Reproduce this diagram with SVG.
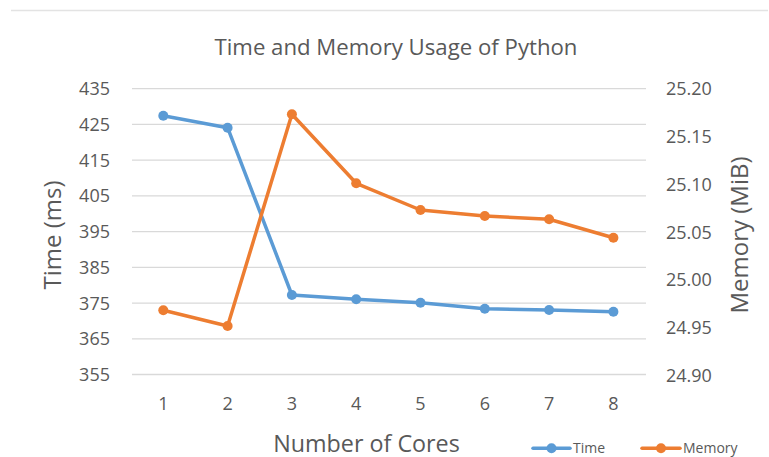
<svg xmlns="http://www.w3.org/2000/svg" width="769" height="457" viewBox="0 0 769 457">
<style>
text{font-family:"Open Sans","Noto Sans","Liberation Sans",sans-serif;fill:#595959}
.tick{font-size:18px}
.grid{stroke:#d9d9d9;stroke-width:1.3}
.time{fill:none;stroke:#5b9bd5;stroke-width:3.5;stroke-linejoin:round;stroke-linecap:round}
.mem{fill:none;stroke:#ed7d31;stroke-width:3.5;stroke-linejoin:round;stroke-linecap:round}
.tm{fill:#5b9bd5}
.mm{fill:#ed7d31}
</style>
<rect width="769" height="457" fill="#fff"/>
<line x1="11" y1="10.5" x2="768" y2="10.5" stroke="#e3e3e3" stroke-width="1.3"/>
<text id="title" x="396" y="55" text-anchor="middle" font-size="22.2">Time and Memory Usage of Python</text>
<g id="gridlines">
<line class="grid" x1="132" y1="88.7" x2="646" y2="88.7"/>
<line class="grid" x1="132" y1="124.4" x2="646" y2="124.4"/>
<line class="grid" x1="132" y1="160.2" x2="646" y2="160.2"/>
<line class="grid" x1="132" y1="195.9" x2="646" y2="195.9"/>
<line class="grid" x1="132" y1="231.6" x2="646" y2="231.6"/>
<line class="grid" x1="132" y1="267.3" x2="646" y2="267.3"/>
<line class="grid" x1="132" y1="303.1" x2="646" y2="303.1"/>
<line class="grid" x1="132" y1="338.8" x2="646" y2="338.8"/>
<line class="grid" x1="132" y1="374.5" x2="646" y2="374.5"/>
</g>
<g id="left-axis" class="tick" text-anchor="end">
<text x="110" y="95.2">435</text>
<text x="110" y="130.9">425</text>
<text x="110" y="166.7">415</text>
<text x="110" y="202.4">405</text>
<text x="110" y="238.1">395</text>
<text x="110" y="273.8">385</text>
<text x="110" y="309.6">375</text>
<text x="110" y="345.3">365</text>
<text x="110" y="381">355</text>
</g>
<g id="right-axis" class="tick">
<text x="666" y="95.2">25.20</text>
<text x="666" y="143">25.15</text>
<text x="666" y="190.7">25.10</text>
<text x="666" y="238.5">25.05</text>
<text x="666" y="286.3">25.00</text>
<text x="666" y="334.1">24.95</text>
<text x="666" y="381.8">24.90</text>
</g>
<g id="x-axis" class="tick" text-anchor="middle">
<text x="163.3" y="409.5">1</text>
<text x="227.6" y="409.5">2</text>
<text x="291.9" y="409.5">3</text>
<text x="356.2" y="409.5">4</text>
<text x="420.5" y="409.5">5</text>
<text x="484.8" y="409.5">6</text>
<text x="549.1" y="409.5">7</text>
<text x="613.4" y="409.5">8</text>
</g>
<text id="x-title" x="366.5" y="451.5" text-anchor="middle" font-size="23.3">Number of Cores</text>
<text id="y-title-left" transform="translate(60.5,235) rotate(-90)" text-anchor="middle" font-size="24">Time (ms)</text>
<text id="y-title-right" transform="translate(748,235) rotate(-90)" text-anchor="middle" font-size="24">Memory (MiB)</text>
<g id="series-time">
<polyline class="time" points="163.3,115.7 227.6,127.7 291.9,295 356.2,299.3 420.5,302.7 484.8,308.7 549.1,310 613.4,311.7"/>
<circle class="tm" cx="163.3" cy="115.7" r="5"/>
<circle class="tm" cx="227.6" cy="127.7" r="5"/>
<circle class="tm" cx="291.9" cy="295" r="5"/>
<circle class="tm" cx="356.2" cy="299.3" r="5"/>
<circle class="tm" cx="420.5" cy="302.7" r="5"/>
<circle class="tm" cx="484.8" cy="308.7" r="5"/>
<circle class="tm" cx="549.1" cy="310" r="5"/>
<circle class="tm" cx="613.4" cy="311.7" r="5"/>
</g>
<g id="series-memory">
<polyline class="mem" points="163.3,310.3 227.6,326 291.9,114.3 356.2,183.3 420.5,210 484.8,216 549.1,219.3 613.4,237.7"/>
<circle class="mm" cx="163.3" cy="310.3" r="5"/>
<circle class="mm" cx="227.6" cy="326" r="5"/>
<circle class="mm" cx="291.9" cy="114.3" r="5"/>
<circle class="mm" cx="356.2" cy="183.3" r="5"/>
<circle class="mm" cx="420.5" cy="210" r="5"/>
<circle class="mm" cx="484.8" cy="216" r="5"/>
<circle class="mm" cx="549.1" cy="219.3" r="5"/>
<circle class="mm" cx="613.4" cy="237.7" r="5"/>
</g>
<g id="legend">
<line x1="533" y1="448.3" x2="570" y2="448.3" stroke="#5b9bd5" stroke-width="3.5" stroke-linecap="round"/>
<circle class="tm" cx="551.5" cy="448.3" r="5"/>
<text x="573" y="453.3" font-size="14">Time</text>
<line x1="642" y1="448.3" x2="680" y2="448.3" stroke="#ed7d31" stroke-width="3.5" stroke-linecap="round"/>
<circle class="mm" cx="661" cy="448.3" r="5"/>
<text x="683" y="453.3" font-size="14">Memory</text>
</g>
</svg>
